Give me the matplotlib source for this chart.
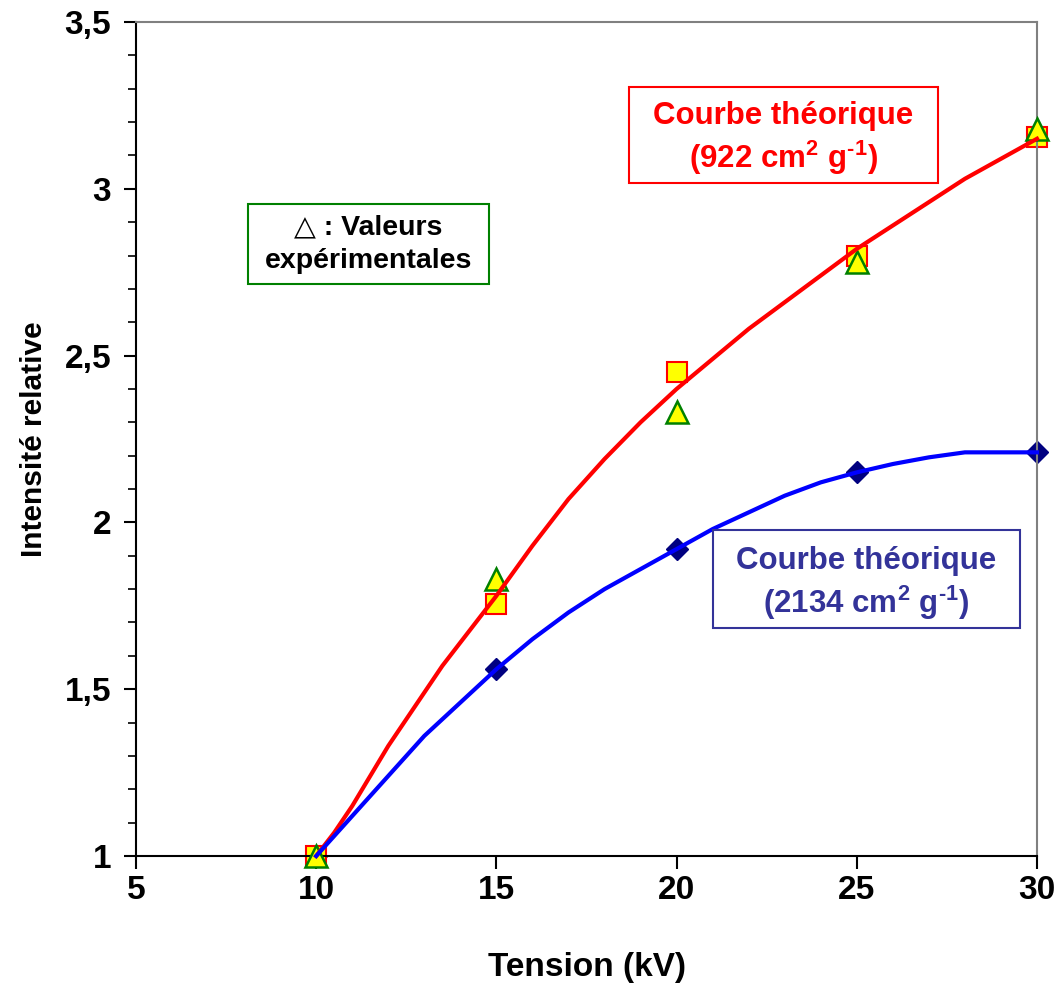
import matplotlib.pyplot as plt
from matplotlib.patches import Rectangle
from matplotlib.ticker import MultipleLocator, FuncFormatter

plt.rcParams['font.family'] = ['Liberation Sans', 'DejaVu Sans']
plt.rcParams['font.weight'] = 'bold'
plt.rcParams['mathtext.default'] = 'regular'

# theoretical curves
kv_curve = [10, 10.5, 11, 11.5, 12, 12.5, 13, 13.5, 14, 14.5, 15, 16, 17, 18, 19, 20, 21, 22, 23,
            24, 25, 26, 27, 28, 29, 30]
red_curve = [1.0, 1.07, 1.15, 1.24, 1.33, 1.41, 1.49, 1.57, 1.64, 1.71, 1.78, 1.93, 2.07, 2.19,
             2.30, 2.40, 2.49, 2.58, 2.66, 2.74, 2.82, 2.89, 2.96, 3.03, 3.09, 3.15]
blue_curve = [1.0, 1.06, 1.12, 1.18, 1.24, 1.30, 1.36, 1.41, 1.46, 1.51, 1.56, 1.65, 1.73, 1.80,
              1.86, 1.92, 1.98, 2.03, 2.08, 2.12, 2.15, 2.175, 2.195, 2.21, 2.21, 2.21]

# points
kv_pts = [10, 15, 20, 25, 30]
squares = [1.0, 1.755, 2.45, 2.80, 3.155]
triangles = [1.0, 1.83, 2.33, 2.78, 3.18]
diamonds = [1.0, 1.56, 1.92, 2.15, 2.21]

fig = plt.figure(figsize=(10.56, 9.86), dpi=100)
ax = fig.add_axes([136/1056, 1-856/986, (1037-136)/1056, (856-22)/986])

ax.plot(kv_pts, diamonds, 'D', ms=11, mfc='#000080', mec='#000080', ls='none', zorder=1,
        clip_on=False)
ax.plot(kv_pts, squares, 's', ms=14, mfc='#ffff00', mec='#ff0000', mew=1.5, ls='none',
        zorder=2, clip_on=False)
ax.plot(kv_pts, triangles, '^', ms=16, mfc='#ffff00', mec='#008000', mew=1.8, ls='none',
        zorder=3, clip_on=False)
ax.plot(kv_curve, red_curve, color='#ff0000', lw=3, zorder=4, clip_on=False)
ax.plot(kv_curve, blue_curve, color='#0000ff', lw=3, zorder=4, clip_on=False)

ax.set_xlim(5, 30)
ax.set_ylim(1, 3.5)
ax.xaxis.set_major_locator(MultipleLocator(5))
ax.yaxis.set_major_locator(MultipleLocator(0.5))
ax.yaxis.set_minor_locator(MultipleLocator(0.1))
ax.yaxis.set_major_formatter(FuncFormatter(lambda v, p: ('%g' % v).replace('.', ',')))
ax.tick_params(axis='both', which='major', direction='out', length=9, width=1.5, labelsize=24)
ax.tick_params(axis='x', which='major', pad=5)
ax.tick_params(axis='y', which='major', pad=9)
ax.tick_params(axis='y', which='minor', direction='out', length=6, width=1.2)
for lab in ax.get_xticklabels() + ax.get_yticklabels():
    lab.set_fontweight('bold')

ax.spines['left'].set_color('black')
ax.spines['bottom'].set_color('black')
ax.spines['left'].set_linewidth(1.5)
ax.spines['bottom'].set_linewidth(1.5)
ax.spines['top'].set_color('#808080')
ax.spines['right'].set_color('#808080')
ax.spines['top'].set_linewidth(1.5)
ax.spines['right'].set_linewidth(1.5)

ax.set_xlabel('Tension (kV)', fontsize=24, fontweight='bold', labelpad=33)
ax.set_ylabel('Intensité relative', fontsize=21.5, fontweight='bold', labelpad=12)


def box(x0, y0, x1, y1, color, lines, textcolor, size, spacing, shift):
    fig.patches.append(Rectangle((x0/1056, 1-y1/986), (x1-x0)/1056, (y1-y0)/986,
                                 transform=fig.transFigure, fill=True, fc='white',
                                 ec=color, lw=1.5, zorder=10))
    cx = (x0 + x1) / 2 / 1056
    cy = 1 - ((y0 + y1) / 2 + shift) / 986
    fig.text(cx, cy, lines, ha='center', va='center', color=textcolor, fontsize=size,
             fontweight='bold', linespacing=spacing, zorder=11)


box(629, 87, 938, 183, '#ff0000', 'Courbe théorique\n(922 cm$^{2}$ g$^{\u20101}$)', '#ff0000', 22.5, 1.25, 4)
box(713, 530, 1020, 628, '#333399', 'Courbe théorique\n(2134 cm$^{2}$ g$^{\u20101}$)', '#333399', 22.5, 1.25, 5)
box(248, 204, 489, 284, '#008000', '△ : Valeurs\nexpérimentales', 'black', 20.5, 1.35, 0)

plt.savefig('out.png', dpi=100)
